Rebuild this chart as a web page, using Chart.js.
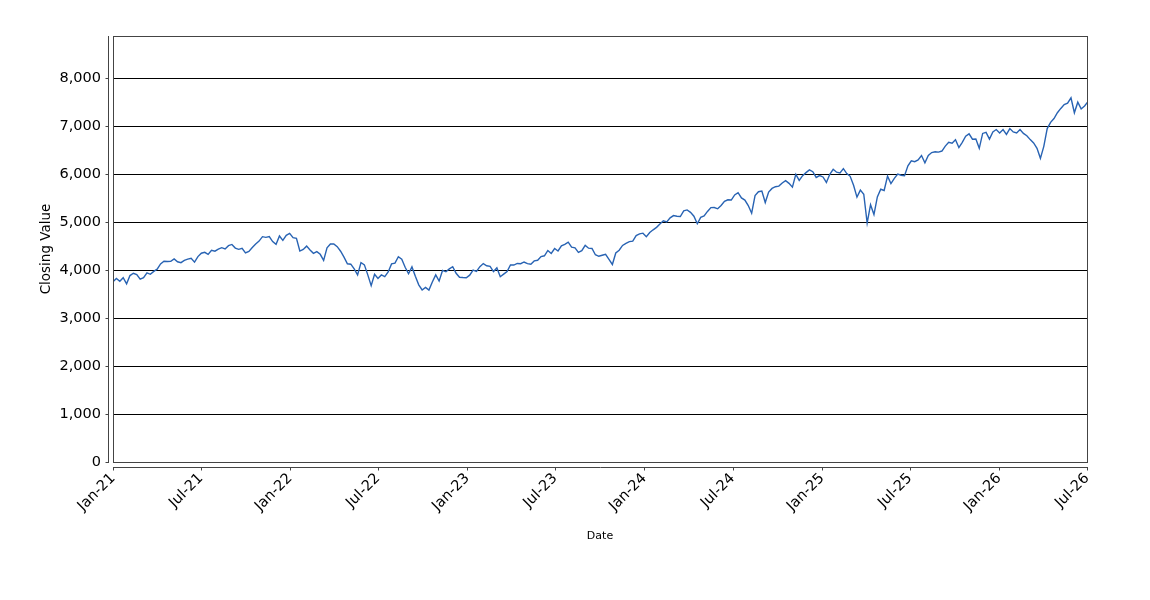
<!DOCTYPE html>
<html lang="en">
  <head>
    <meta charset="UTF-8" />
    <title>Closing Value</title>
    <style>
      html, body { margin: 0; padding: 0; background: #fff; }
      #wrap { width: 1150px; height: 600px; }
    </style>
  </head>
  <body>
    <div id="wrap">
      <canvas id="chart" width="1150" height="600"></canvas>
    </div>
    <script src="https://cdn.jsdelivr.net/npm/chart.js"></script>
    <script>
      // weekly closes, one value per Friday starting at firstWeek
      const firstWeek = "2021-01-01";

      const close2021 = [
        3756, 3824, 3768, 3841, 3714, 3886, 3934, 3906, 3811, 3842, 3943, 3913, 3974,
        4020, 4129, 4185, 4180, 4181, 4233, 4174, 4156, 4204, 4230, 4247, 4166, 4281,
        4352, 4370, 4327, 4412, 4395, 4437, 4468, 4442, 4509, 4535, 4459, 4433, 4455,
        4357, 4391, 4471, 4545, 4605, 4697, 4683, 4698, 4595, 4538, 4712, 4620, 4726, 4766,
      ];
      const close2022 = [
        4677, 4662, 4398, 4432, 4500, 4419, 4349, 4385, 4329, 4204, 4463, 4543, 4546,
        4488, 4393, 4272, 4132, 4123, 4024, 3901, 4158, 4109, 3901, 3675, 3912, 3825,
        3899, 3863, 3962, 4130, 4145, 4280, 4228, 4058, 3924, 4067, 3873, 3693, 3586,
        3640, 3583, 3753, 3901, 3771, 3993, 3965, 4026, 4072, 3934, 3852, 3845, 3840,
      ];
      const close2023 = [
        3895, 3999, 3973, 4071, 4136, 4090, 4079, 3970, 4046, 3862, 3917, 3971, 4109,
        4105, 4138, 4133, 4169, 4136, 4124, 4192, 4205, 4282, 4299, 4410, 4348, 4450,
        4399, 4505, 4536, 4582, 4478, 4464, 4370, 4406, 4516, 4457, 4450, 4320, 4288,
        4309, 4327, 4224, 4117, 4358, 4415, 4514, 4559, 4595, 4604, 4719, 4755, 4770,
      ];
      const close2024 = [
        4697, 4784, 4840, 4891, 4959, 5027, 5006, 5089, 5137, 5124, 5117, 5234, 5254,
        5204, 5123, 4967, 5100, 5128, 5223, 5303, 5305, 5278, 5347, 5432, 5465, 5460,
        5567, 5615, 5505, 5459, 5346, 5186, 5554, 5634, 5648, 5408, 5626, 5703, 5738,
        5751, 5815, 5865, 5808, 5729, 5995, 5870, 5969, 6032, 6090, 6051, 5931, 5971,
      ];
      const close2025 = [
        5942, 5827, 5997, 6101, 6041, 6026, 6115, 6013, 5955, 5770, 5521, 5668, 5581,
        4982, 5363, 5158, 5525, 5686, 5660, 5958, 5803, 5912, 6000, 5977, 5967, 6173,
        6279, 6260, 6297, 6389, 6238, 6389, 6450, 6467, 6460, 6482, 6584, 6664, 6644,
        6716, 6553, 6664, 6791, 6840, 6728, 6734, 6538, 6849, 6870, 6730, 6880, 6930,
      ];
      const close2026 = [
        6860, 6930, 6830, 6950, 6880, 6860, 6930, 6850, 6800, 6720, 6650, 6540, 6330,
        6580, 6950, 7080, 7160, 7280, 7370, 7450, 7480, 7590, 7280, 7500, 7360, 7420, 7510,
      ];

      const tickDates = [
        "2021-01-01", "2021-07-01", "2022-01-01", "2022-07-01", "2023-01-01", "2023-07-01",
        "2024-01-01", "2024-07-01", "2025-01-01", "2025-07-01", "2026-01-01", "2026-07-01",
      ];
      const tickLabels = [
        "Jan-21", "Jul-21", "Jan-22", "Jul-22", "Jan-23", "Jul-23",
        "Jan-24", "Jul-24", "Jan-25", "Jul-25", "Jan-26", "Jul-26",
      ];
      const yTicks = [0, 1000, 2000, 3000, 4000, 5000, 6000, 7000, 8000];
      const yMax = 8880;

      const DAY = 86400000;
      const t0 = Date.parse(firstWeek);
      const dayOf = (iso) => Math.round((Date.parse(iso) - t0) / DAY);

      const closes = [].concat(close2021, close2022, close2023, close2024, close2025, close2026);
      const points = closes.map((v, i) => ({ x: i * 7, y: v }));
      const tickDays = tickDates.map(dayOf);

      Chart.defaults.font.family = "'DejaVu Sans', sans-serif";
      Chart.defaults.color = "#000";

      // axes drawn a few pixels away from the plot box
      const offsetAxes = {
        id: "offsetAxes",
        afterDraw(chart) {
          const { ctx, chartArea: a, scales } = chart;
          ctx.save();
          ctx.strokeStyle = "#444";
          ctx.lineWidth = 1;
          ctx.strokeRect(a.left + 0.5, a.top + 0.5, a.right - a.left, a.bottom - a.top);

          ctx.beginPath();
          const ax = a.left - 5 + 0.5;
          ctx.moveTo(ax, a.top);
          ctx.lineTo(ax, a.bottom + 1);
          scales.y.ticks.forEach((t) => {
            const py = Math.round(scales.y.getPixelForValue(t.value)) + 0.5;
            ctx.moveTo(ax - 3, py);
            ctx.lineTo(ax, py);
          });
          const ay = a.bottom + 5 + 0.5;
          ctx.moveTo(a.left, ay);
          ctx.lineTo(a.right + 1, ay);
          scales.x.ticks.forEach((t) => {
            const px = Math.round(scales.x.getPixelForValue(t.value)) + 0.5;
            ctx.moveTo(px, ay);
            ctx.lineTo(px, ay + 3);
          });
          ctx.stroke();
          ctx.restore();
        },
      };

      new Chart(document.getElementById("chart"), {
        type: "line",
        data: {
          datasets: [
            {
              label: "Closing Value",
              data: points,
              borderColor: "#2863b3",
              borderWidth: 1.4,
              pointRadius: 0,
              tension: 0,
            },
          ],
        },
        options: {
          responsive: false,
          animation: false,
          events: [],
          layout: { padding: { top: 36, right: 63, left: 0, bottom: 0 } },
          plugins: { legend: { display: false }, tooltip: { enabled: false } },
          scales: {
            x: {
              type: "linear",
              min: 0,
              max: tickDays[tickDays.length - 1],
              afterBuildTicks: (scale) => {
                scale.ticks = tickDays.map((d) => ({ value: d }));
              },
              afterFit: (scale) => {
                scale.height = 138;
              },
              grid: { display: false, drawTicks: false },
              border: { display: false },
              ticks: {
                autoSkip: false,
                minRotation: 45,
                maxRotation: 45,
                padding: 8,
                font: { size: 14.5 },
                callback: (value) => tickLabels[tickDays.indexOf(value)],
              },
              title: {
                display: true,
                text: "Date",
                font: { size: 11 },
                padding: { bottom: 57 },
              },
            },
            y: {
              min: 0,
              max: yMax,
              afterBuildTicks: (scale) => {
                scale.ticks = yTicks.map((v) => ({ value: v }));
              },
              afterFit: (scale) => {
                scale.width = 113;
              },
              grid: {
                drawTicks: false,
                color: (c) => (c.tick && c.tick.value === 0 ? "rgba(0,0,0,0)" : "#000"),
                lineWidth: 1,
              },
              border: { display: false },
              ticks: {
                padding: 12,
                font: { size: 14.5 },
                callback: (value) => value.toLocaleString("en-US"),
              },
              title: {
                display: true,
                text: "Closing Value",
                font: { size: 13.5 },
                padding: { top: 38 },
              },
            },
          },
        },
        plugins: [offsetAxes],
      });
    </script>
  </body>
</html>
